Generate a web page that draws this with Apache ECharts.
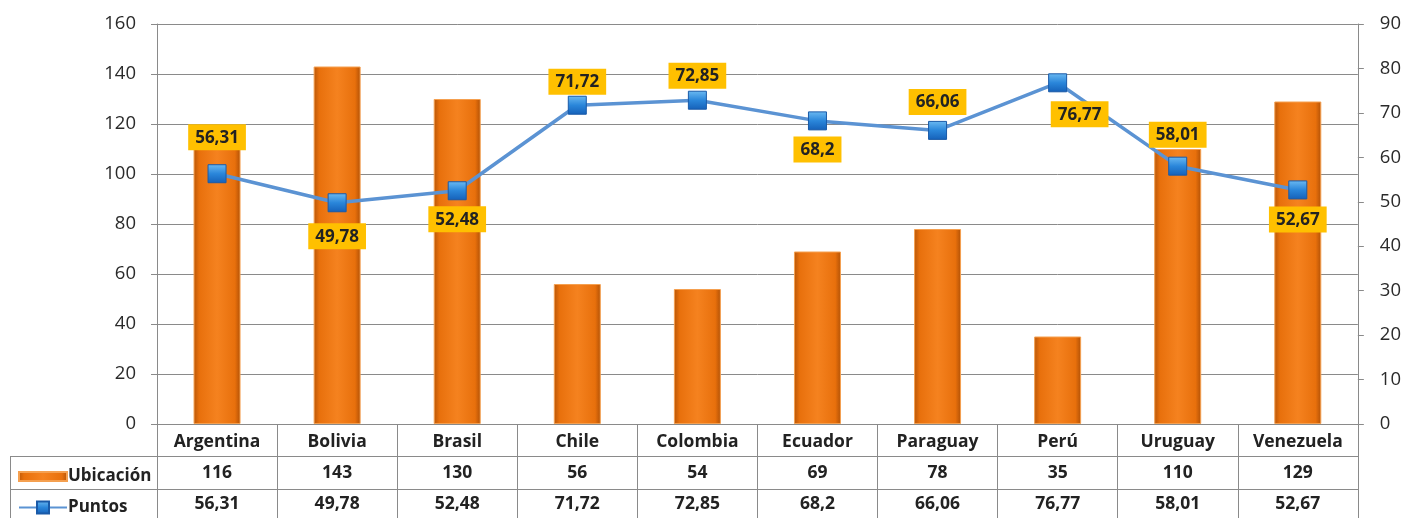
<!DOCTYPE html>
<html><head><meta charset="utf-8">
<script src="https://cdn.jsdelivr.net/npm/echarts@6/dist/echarts.min.js"></script>
<style>html,body{margin:0;padding:0;background:#fff}#c{width:1404px;height:518px}</style>
</head><body><div id="c"></div>
<script>
const categories = ['Argentina','Bolivia','Brasil','Chile','Colombia','Ecuador','Paraguay','Perú','Uruguay','Venezuela'];
const ubicacion = [116,143,130,56,54,69,78,35,110,129];
const puntos = [56.31,49.78,52.48,71.72,72.85,68.2,66.06,76.77,58.01,52.67];
const leftTicks = {min:0,max:160,interval:20};
const rightTicks = {min:0,max:90,interval:10};

// label styling (placement per point)
const labelPlace = ['top','bottom','bottom','top','top','bottom','top','bottom','top','bottom'];
const labelDist = [14,11,6,1,2,6,6,9,9,7];
const labelOff = [[0,0],[0,0],[0,0],[0,0],[0,0],[0,0],[0,0],[22,0],[0,0],[0,0]];

const fmt = v => String(v).replace('.', ',');
const FONT = '"Open Sans", "Noto Sans", sans-serif';
const gridCol = '#8a8a8a';

const chart = echarts.init(document.getElementById('c'));
const barColor = new echarts.graphic.LinearGradient(0,0,1,0,[
  {offset:0,color:'#b85608'},{offset:0.12,color:'#e8700c'},{offset:0.5,color:'#f5821f'},
  {offset:0.88,color:'#e8700c'},{offset:1,color:'#b05006'}]);
const markColor = new echarts.graphic.LinearGradient(0,0,0,1,[
  {offset:0,color:'#6cbaf2'},{offset:0.5,color:'#2a86da'},{offset:1,color:'#1560b8'}]);
const legText = {fontFamily:FONT,fontWeight:'bold',fontSize:17,color:'#222'};

chart.setOption({
  animation:false,
  textStyle:{fontFamily:FONT},
  grid:{left:157,right:46,top:24,bottom:94,containLabel:false},
  legend:[{
    left:13, top:463, itemWidth:48, itemHeight:9, itemGap:0,
    textStyle:Object.assign({padding:[0,0,0,-4]},legText),
    data:[{name:'Ubicación',icon:'rect'}]
  },{
    left:13, top:494, itemWidth:48, itemHeight:15, itemGap:0,
    textStyle:Object.assign({padding:[0,0,0,-4]},legText),
    data:[{name:'Puntos'}]
  }],
  xAxis:[{
    type:'category', data:categories, position:'bottom',
    axisLine:{show:true,lineStyle:{color:gridCol,width:1}},
    axisTick:{show:true,interval:0,length:94,lineStyle:{color:gridCol}},
    axisLabel:{interval:0,margin:2,
      formatter:(v,i)=>'{h|'+v+'}\n{v|'+ubicacion[i]+'}\n{v|'+fmt(puntos[i])+'}',
      rich:{h:{fontFamily:FONT,fontWeight:'bold',fontSize:17.5,color:'#222',lineHeight:32},
            v:{fontFamily:FONT,fontWeight:'bold',fontSize:17.5,color:'#222',lineHeight:31}}}
  }],
  yAxis:[{
    type:'value', min:leftTicks.min, max:leftTicks.max, interval:leftTicks.interval, position:'left',
    axisLine:{show:true,lineStyle:{color:gridCol}},
    axisTick:{show:true,length:6,lineStyle:{color:gridCol}},
    axisLabel:{fontFamily:FONT,fontSize:18.5,color:'#2a2a2a',margin:21},
    splitLine:{show:true,lineStyle:{color:gridCol,width:1}}
  },{
    type:'value', min:rightTicks.min, max:rightTicks.max, interval:rightTicks.interval, position:'right',
    axisLine:{show:true,lineStyle:{color:gridCol}},
    axisTick:{show:true,length:6,lineStyle:{color:gridCol}},
    axisLabel:{fontFamily:FONT,fontSize:18.5,color:'#2a2a2a',margin:22},
    splitLine:{show:false}
  }],
  series:[{
    name:'Ubicación', type:'bar', yAxisIndex:0, barWidth:47, data:ubicacion,
    itemStyle:{color:barColor,borderColor:'#f5a050',borderWidth:1},
    z:2
  },{
    name:'Puntos', type:'line', yAxisIndex:1,
    data:puntos.map((v,i)=>({value:v,label:{position:labelPlace[i],distance:labelDist[i],offset:labelOff[i]}})),
    symbol:'rect', symbolSize:18,
    lineStyle:{color:'#5b93d3',width:3.5},
    itemStyle:{color:markColor,borderColor:'#1a5aa8',borderWidth:1},
    label:{show:true,formatter:p=>fmt(p.value),backgroundColor:'#ffc000',padding:[5,7,4,7],
      fontFamily:FONT,fontWeight:'bold',fontSize:17,color:'#222'},
    z:5
  }],
  graphic:[
    {type:'line',shape:{x1:10,y1:456.5,x2:1358,y2:456.5},style:{stroke:gridCol,lineWidth:1}},
    {type:'line',shape:{x1:10,y1:489.5,x2:1358,y2:489.5},style:{stroke:gridCol,lineWidth:1}},
    {type:'line',shape:{x1:10.5,y1:456,x2:10.5,y2:518},style:{stroke:gridCol,lineWidth:1}}
  ]
});
</script></body></html>
